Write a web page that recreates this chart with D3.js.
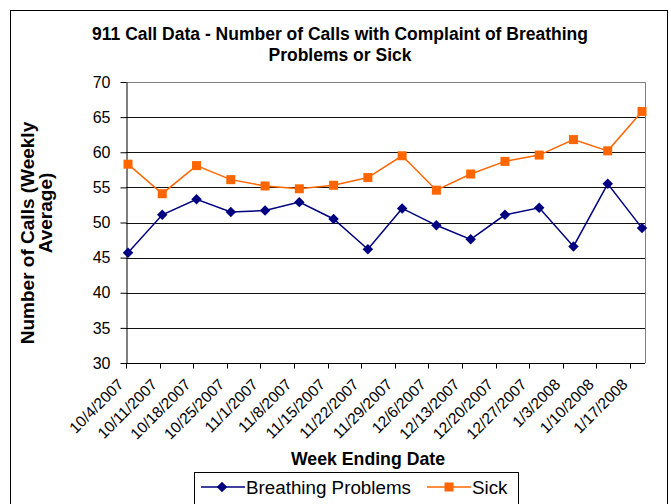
<!DOCTYPE html>
<html>
<head>
<meta charset="utf-8">
<script src="https://cdn.jsdelivr.net/npm/d3@7"></script>
<style>
  body { margin: 0; background: #fff; }
  text { font-family: "Liberation Sans", Arial, sans-serif; fill: #000; }
</style>
</head>
<body>
<svg id="chart" width="671" height="504"></svg>
<script>
// week ending dates
const weeks = ['10/4/2007','10/11/2007','10/18/2007','10/25/2007','11/1/2007','11/8/2007','11/15/2007','11/22/2007',
  '11/29/2007','12/6/2007','12/13/2007','12/20/2007','12/27/2007','1/3/2008','1/10/2008','1/17/2008'];
const breathing = [45.7,51.1,53.3,51.5,51.7,52.9,50.5,46.2,52.0,49.6,47.6,51.1,52.1,46.6,55.5,49.2];
const sick = [58.3,54.1,58.1,56.1,55.2,54.8,55.3,56.4,59.5,54.6,56.9,58.7,59.6,61.8,60.2,65.8];
const yTicks = [30,35,40,45,50,55,60,65,70];

const svg = d3.select('#chart');

// outer frame
svg.append('rect')
    .attr('x',10.5).attr('y',10.5)
    .attr('width',657).attr('height',520)
    .attr('fill','#fff').attr('stroke','#000');

const plotL = 126, plotR = 645, plotT = 82, plotB = 363;

const y = d3.scaleLinear().domain([30,70]).range([plotB,plotT]);
const x = d3.scalePoint().domain(weeks).range([128,642]);
// excel places the category ticks a little tighter than the points
const xTick = d3.scalePoint().domain(weeks).range([126,630]);

// gridlines
svg.append('g')
    .selectAll('line')
    .data(yTicks.filter(d=>d>30))
    .join('line')
    .attr('x1',plotL).attr('x2',plotR)
    .attr('y1',d=>Math.round(y(d))+0.5).attr('y2',d=>Math.round(y(d))+0.5)
    .attr('stroke',d=>d===70?'#808080':'#111')
    .attr('stroke-width',1);

// right border of plot area
svg.append('line')
    .attr('x1',plotR+0.5).attr('x2',plotR+0.5)
    .attr('y1',plotT).attr('y2',plotB)
    .attr('stroke','#808080');

// y axis
const yAxis = svg.append('g')
    .attr('transform','translate('+(plotL+0.5)+',0)')
    .call(d3.axisLeft(y).tickValues(yTicks).tickSize(6).tickPadding(10).tickSizeOuter(0));
yAxis.select('.domain').attr('stroke','#000');
yAxis.selectAll('.tick line').attr('stroke','#000');
yAxis.selectAll('.tick text')
    .style('font-size','16px')
    .style('font-family','"Liberation Sans", Arial, sans-serif');

// x axis
const xAxis = svg.append('g')
    .attr('transform','translate(0,'+(plotB+0.5)+')');
xAxis.append('line')
    .attr('x1',plotL).attr('x2',plotR)
    .attr('stroke','#000');
xAxis.selectAll('line.tk')
    .data(weeks)
    .join('line')
    .attr('class','tk')
    .attr('x1',d=>Math.round(xTick(d))+0.5).attr('x2',d=>Math.round(xTick(d))+0.5)
    .attr('y1',0).attr('y2',5)
    .attr('stroke','#000');
xAxis.selectAll('text')
    .data(weeks)
    .join('text')
    .attr('text-anchor','end')
    .attr('transform',d=>'translate('+(xTick(d)-1.5)+',22) rotate(-45)')
    .style('font-size','15.5px')
    .text(d=>d);

// lines + markers
const line = d3.line().x((d,i)=>x(weeks[i])).y(d=>y(d));

svg.append('path')
    .datum(sick)
    .attr('d',line)
    .attr('fill','none')
    .attr('stroke','#FF6600')
    .attr('stroke-width',1.5);
svg.append('path')
    .datum(breathing)
    .attr('d',line)
    .attr('fill','none')
    .attr('stroke','#000080')
    .attr('stroke-width',1.5);

svg.append('g')
    .selectAll('rect')
    .data(sick)
    .join('rect')
    .attr('x',(d,i)=>x(weeks[i])-4.5)
    .attr('y',d=>y(d)-4.5)
    .attr('width',9).attr('height',9)
    .attr('fill','#FF6600');

const diamond = d3.symbol().type(d3.symbolDiamond2).size(70);
svg.append('g')
    .selectAll('path')
    .data(breathing)
    .join('path')
    .attr('d',diamond)
    .attr('transform',(d,i)=>'translate('+x(weeks[i])+','+y(d)+')')
    .attr('fill','#000080');

// title
svg.append('text')
    .attr('x',340).attr('y',40)
    .attr('text-anchor','middle')
    .style('font-size','17.5px').style('font-weight','bold')
    .text('911 Call Data - Number of Calls with Complaint of Breathing');
svg.append('text')
    .attr('x',340).attr('y',61)
    .attr('text-anchor','middle')
    .style('font-size','17.5px').style('font-weight','bold')
    .text('Problems or Sick');

// axis titles
svg.append('text')
    .attr('transform','translate(34,233) rotate(-90)')
    .attr('text-anchor','middle')
    .style('font-size','19px').style('font-weight','bold')
    .text('Number of Calls (Weekly');
svg.append('text')
    .attr('transform','translate(52,213) rotate(-90)')
    .attr('text-anchor','middle')
    .style('font-size','19px').style('font-weight','bold')
    .text('Average)');
svg.append('text')
    .attr('x',368).attr('y',465)
    .attr('text-anchor','middle')
    .style('font-size','17.7px').style('font-weight','bold')
    .text('Week Ending Date');

// legend
const legend = svg.append('g');
legend.append('rect')
    .attr('x',194.5).attr('y',472.5)
    .attr('width',324).attr('height',45)
    .attr('fill','#fff').attr('stroke','#000');
const items = [
  {name:'Breathing Problems', color:'#000080', shape:'diamond', x0:201},
  {name:'Sick', color:'#FF6600', shape:'square', x0:427}
];
items.forEach(it=>{
  legend.append('line')
      .attr('x1',it.x0).attr('x2',it.x0+44)
      .attr('y1',487).attr('y2',487)
      .attr('stroke',it.color).attr('stroke-width',1.5);
  if(it.shape==='diamond'){
    legend.append('path')
        .attr('d',diamond)
        .attr('transform','translate('+(it.x0+21)+',487)')
        .attr('fill',it.color);
  } else {
    legend.append('rect')
        .attr('x',it.x0+17.5).attr('y',482.5)
        .attr('width',9).attr('height',9)
        .attr('fill',it.color);
  }
  legend.append('text')
      .attr('x',it.x0+45).attr('y',494)
      .style('font-size','18.8px')
      .text(it.name);
});
</script>
</body>
</html>
